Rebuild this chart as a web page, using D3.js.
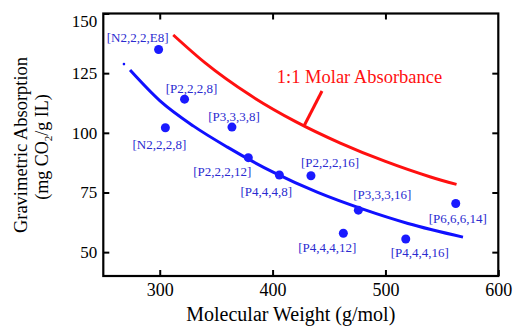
<!DOCTYPE html>
<html>
<head>
<meta charset="utf-8">
<script src="https://cdn.jsdelivr.net/npm/d3@7"></script>
<style>
  body { margin: 0; background: #fff; }
  svg text { font-family: "Liberation Serif", "DejaVu Serif", serif !important; }
</style>
</head>
<body>
<div id="chart"></div>
<script>
// ionic liquids
const names = ["[N2,2,2,E8]", "[P2,2,2,8]", "[N2,2,2,8]", "[P3,3,3,8]", "[P2,2,2,12]",
  "[P4,4,4,8]", "[P2,2,2,16]", "[P3,3,3,16]", "[P4,4,4,12]", "[P4,4,4,16]", "[P6,6,6,14]"];
const molWeight = [299, 322, 305, 364, 378.5, 406, 434, 476, 462.7, 518, 562.3];
const absorption = [134.9, 114.1, 102.1, 102.4, 89.6, 82.3, 82.0, 67.6, 57.9, 55.5, 70.4];

// blue fit curve
const fitMW = [273.7, 300, 330, 360, 400, 440, 480, 520, 568.7];
const fitVal = [126.3, 113.5, 102.8, 94, 83.6, 75, 68, 62, 56.3];

// red 1:1 molar line
const molarMW = [312, 340, 380, 420, 460, 500, 540, 563];
const molarVal = [141, 129.4, 115.8, 104.8, 95.7, 88, 81.5, 78.4];

const xTicks = [300, 400, 500, 600];
const yTicks = [50, 75, 100, 125, 150];

// label placement (pixels from the dot)
const labelOffsets = [[-21, -12], [7, -11], [-6, 17], [2, -11], [-26, 14], [-13, 16],
  [19, -13], [24, -16], [-16, 14], [14, 13], [2, 15]];

const width = 513, height = 326;
const m = { left: 103.3, right: 498.3, top: 13.5, bottom: 276 };

const svg = d3.select("#chart").append("svg")
  .attr("width", width)
  .attr("height", height);

const x = d3.scaleLinear().domain([250, 600]).range([m.left, m.right]);
const y = d3.scaleLinear().domain([40, 150]).range([m.bottom, m.top]);

const line = d3.line()
  .x(d => x(d[0]))
  .y(d => y(d[1]))
  .curve(d3.curveMonotoneX);

// curves
svg.append("path")
  .datum(molarMW.map((v, i) => [v, molarVal[i]]))
  .attr("d", line)
  .attr("fill", "none")
  .attr("stroke", "#ff1010")
  .attr("stroke-width", 3);

svg.append("path")
  .datum(fitMW.map((v, i) => [v, fitVal[i]]))
  .attr("d", line)
  .attr("fill", "none")
  .attr("stroke", "#1010ff")
  .attr("stroke-width", 3);

// little stray bit at the start of the blue fit
svg.append("circle")
  .attr("cx", x(268.3)).attr("cy", y(128.8))
  .attr("r", 1.3)
  .attr("fill", "#1010ff");

// leader line for the red curve label
svg.append("line")
  .attr("x1", 322).attr("y1", 91)
  .attr("x2", 304).attr("y2", 126)
  .attr("stroke", "#ff1010")
  .attr("stroke-width", 3);

svg.append("text")
  .attr("x", 359.5).attr("y", 83)
  .attr("text-anchor", "middle")
  .attr("font-size", 18.5)
  .attr("fill", "#ff1010")
  .text("1:1 Molar Absorbance");

// points
const pts = names.map((n, i) => ({ name: n, mw: molWeight[i], val: absorption[i], off: labelOffsets[i] }));

svg.selectAll(".dot")
  .data(pts)
  .join("circle")
  .attr("class", "dot")
  .attr("cx", d => x(d.mw))
  .attr("cy", d => y(d.val))
  .attr("r", 4.5)
  .attr("fill", "#1a1aff");

svg.selectAll(".lbl")
  .data(pts)
  .join("text")
  .attr("class", "lbl")
  .attr("x", d => x(d.mw) + d.off[0])
  .attr("y", d => y(d.val) + d.off[1])
  .attr("dy", "0.35em")
  .attr("text-anchor", "middle")
  .attr("font-size", 13)
  .attr("fill", "#2a2ad0")
  .text(d => d.name);

// axes, ticks pointing inward
const gx = svg.append("g")
  .attr("transform", `translate(0,${m.bottom})`)
  .call(d3.axisBottom(x).tickValues(xTicks).tickSizeInner(-6).tickSizeOuter(0).tickPadding(7));
gx.selectAll("text").attr("font-size", 18);

const gy = svg.append("g")
  .attr("transform", `translate(${m.left},0)`)
  .call(d3.axisLeft(y).tickValues(yTicks).tickSizeInner(-6).tickSizeOuter(0).tickPadding(6));
gy.selectAll("text").attr("font-size", 17);
gy.selectAll(".tick").filter(d => d === 150).select("text").attr("dy", "0.75em");

svg.append("g")
  .attr("transform", `translate(0,${m.top})`)
  .call(d3.axisTop(x).tickValues([300, 400, 500]).tickSizeInner(-6).tickSizeOuter(0).tickFormat(""));

svg.append("g")
  .attr("transform", `translate(${m.right},0)`)
  .call(d3.axisRight(y).tickValues([50, 75, 100, 125]).tickSizeInner(-6).tickSizeOuter(0).tickFormat(""));

svg.selectAll(".domain").remove();
svg.selectAll(".tick line").attr("stroke", "#000").attr("stroke-width", 2);
svg.selectAll(".tick text").attr("fill", "#000");

// frame
svg.append("rect")
  .attr("x", m.left).attr("y", m.top)
  .attr("width", m.right - m.left).attr("height", m.bottom - m.top)
  .attr("fill", "none")
  .attr("stroke", "#000")
  .attr("stroke-width", 2.2);

// titles
svg.append("text")
  .attr("x", (m.left + m.right) / 2 - 10).attr("y", 321)
  .attr("text-anchor", "middle")
  .attr("font-size", 20)
  .text("Molecular Weight (g/mol)");

const yt = svg.append("text")
  .attr("transform", "translate(27,145) rotate(-90)")
  .attr("text-anchor", "middle")
  .attr("font-size", 18.5);
yt.append("tspan").attr("x", 0).attr("y", 0).text("Gravimetric Absorption");

const yt2 = svg.append("text")
  .attr("transform", "translate(48,147) rotate(-90)")
  .attr("text-anchor", "middle")
  .attr("font-size", 18);
yt2.append("tspan").text("(mg CO");
yt2.append("tspan").attr("font-size", 11).attr("dy", 4).text("2");
yt2.append("tspan").attr("dy", -4).text("/g IL)");
</script>
</body>
</html>
